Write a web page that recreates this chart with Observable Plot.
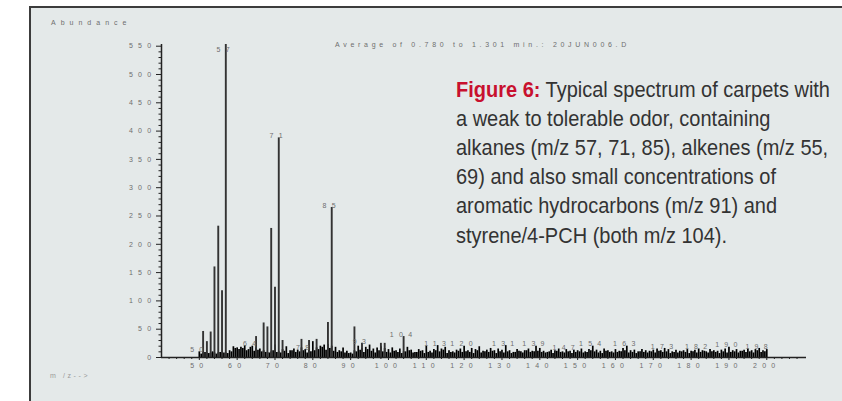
<!DOCTYPE html>
<html>
<head>
<meta charset="utf-8">
<script src="https://cdn.jsdelivr.net/npm/d3@7"></script>
<script src="https://cdn.jsdelivr.net/npm/@observablehq/plot@0.6"></script>
<style>
  html, body { margin: 0; padding: 0; background: #fff; width: 842px; height: 401px; overflow: hidden; }
  #panel { position: absolute; left: 29px; top: 6px; width: 813px; height: 395px; background: #e4e9e9;
           border-left: 2px solid #3c3c3c; border-top: 2px solid #3c3c3c; }
  #chart { position: absolute; left: 0; top: 0; }
  .note { position: absolute; font-family: "Liberation Sans", Arial, sans-serif; font-size: 7px; line-height: 1;
          color: #6e6e6e; white-space: nowrap; }
  #caption { position: absolute; left: 456px; top: 74.5px; font-family: "Liberation Sans Narrow", "Liberation Sans", Arial, sans-serif;
             font-size: 22px; line-height: 29.2px; color: #333; white-space: nowrap; transform-origin: 0 0; }
  #caption b { color: #c8102e; }
</style>
</head>
<body>
<div id="panel"></div>
<div id="chart"></div>
<div class="note" style="left:51px; top:19px; letter-spacing:5px;">Abundance</div>
<div class="note" style="left:335px; top:40.6px; letter-spacing:3.7px;">Average of 0.780 to 1.301 min.: 20JUN006.D</div>
<div class="note" style="left:50px; top:372.4px; letter-spacing:2.6px; color:#9a9a9a;">m /z--&gt;</div>
<div id="caption">
  <span id="line1"><b>Figure 6:</b> Typical spectrum of carpets with</span><br>
  a weak to tolerable odor, containing<br>
  alkanes (m/z 57, 71, 85), alkenes (m/z 55,<br>
  69) and also small concentrations of<br>
  aromatic hydrocarbons (m/z 91) and<br>
  styrene/4-PCH (both m/z 104).
</div>
<script>
// Spectrum baseline: abundance at whole m/z 50..200
const mzStart = 50;
const noiseWhole = [
  10, 8, 8, 8, 8, 8, 8, 8, 12, 19,
  17, 18, 21, 14, 20, 17, 15, 12, 9, 10,
  22, 10, 14, 19, 12, 15, 13, 17, 14, 15,
  28, 17, 20, 22, 23, 20, 18, 12, 17, 11,
  8, 12, 20, 16, 18, 22, 15, 17, 19, 16,
  14, 17, 12, 15, 10, 18, 13, 9, 14, 12,
  20, 11, 14, 21, 15, 18, 12, 10, 13, 15,
  20, 12, 16, 14, 19, 11, 13, 16, 12, 15,
  13, 21, 12, 9, 14, 10, 12, 15, 11, 20,
  16, 11, 9, 13, 12, 15, 10, 14, 11, 13,
  12, 15, 10, 14, 20, 13, 11, 15, 12, 10,
  14, 11, 16, 20, 12, 13, 10, 14, 12, 11,
  13, 15, 12, 16, 14, 10, 13, 11, 12, 14,
  11, 13, 15, 12, 10, 14, 12, 11, 13, 15,
  18, 12, 14, 11, 13, 15, 12, 14, 16, 12,
  14
];
// ... and at the half-mass positions 50.5..199.5
const noiseHalf = [
  6, 9, 7, 10, 6, 9, 8, 7, 10, 16,
  14, 16, 12, 18, 11, 13, 10, 9, 8, 12,
  9, 8, 11, 7, 12, 9, 10, 12, 8, 10,
  12, 14, 18, 13, 16, 11, 9, 10, 8, 7,
  6, 10, 13, 9, 14, 11, 8, 12, 10, 9,
  8, 11, 9, 7, 10, 12, 8, 9, 11, 7,
  9, 8, 12, 10, 13, 7, 9, 8, 11, 9,
  10, 9, 7, 12, 8, 10, 9, 11, 7, 10,
  8, 10, 7, 9, 11, 8, 12, 9, 10, 11,
  9, 8, 10, 7, 11, 9, 8, 10, 7, 9,
  10, 8, 9, 12, 10, 8, 7, 11, 9, 8,
  9, 10, 12, 8, 9, 7, 10, 9, 8, 10,
  8, 11, 9, 10, 7, 9, 8, 10, 9, 7,
  10, 8, 9, 11, 8, 10, 9, 7, 10, 8,
  9, 10, 8, 11, 9, 10, 8, 12, 9, 10
];

// Prominent ions
const peakMz        = [51, 52, 53, 54, 55, 56, 57, 65, 67, 68, 69, 70, 71, 72, 77, 79, 81, 84, 85, 91, 93, 98, 99, 104];
const peakAbundance = [46, 28, 45, 160, 232, 118, 553, 37, 61, 54, 228, 124, 388, 30, 32, 30, 32, 62, 265, 54, 25, 25, 25, 37];

// Annotated masses and the abundance at which each label sits
const labelMz        = [50, 57, 64, 71, 78, 85, 93, 104, 113, 120, 131, 139, 147, 154, 163, 173, 182, 190, 198];
const labelAbundance = [10, 540, 20, 388, 14, 265, 24, 37, 21, 20, 21, 20, 14, 20, 20, 15, 15, 18, 15];

const xTicks = [50, 60, 70, 80, 90, 100, 110, 120, 130, 140, 150, 160, 170, 180, 190, 200];
const xMinorTicks = [42, 44, 46, 48, 52, 54, 56, 58, 62, 64, 66, 68, 72, 74, 76, 78, 82, 84, 86, 88,
  92, 94, 96, 98, 102, 104, 106, 108, 112, 114, 116, 118, 122, 124, 126, 128, 132, 134, 136, 138,
  142, 144, 146, 148, 152, 154, 156, 158, 162, 164, 166, 168, 172, 174, 176, 178, 182, 184, 186, 188,
  192, 194, 196, 198, 202, 204, 206, 208];
const yTicks = [0, 50, 100, 150, 200, 250, 300, 350, 400, 450, 500, 550];
const yMinorTicks = [10, 20, 30, 40, 60, 70, 80, 90, 110, 120, 130, 140, 160, 170, 180, 190, 210, 220, 230, 240,
  260, 270, 280, 290, 310, 320, 330, 340, 360, 370, 380, 390, 410, 420, 430, 440, 460, 470, 480, 490,
  510, 520, 530, 540];

const noise = noiseWhole.map((v, i) => ({mz: mzStart + i, abundance: v}))
  .concat(noiseHalf.map((v, i) => ({mz: mzStart + i + 0.5, abundance: v})));
const peaks = peakMz.map((mz, i) => ({mz, abundance: peakAbundance[i]}));
const labels = labelMz.map((mz, i) => ({mz, abundance: labelAbundance[i]}));

const tickText = {fontSize: 7, fill: "#6e6e6e"};

const chart = Plot.plot({
  width: 842,
  height: 401,
  marginLeft: 161,
  marginRight: 36,
  marginTop: 44,
  marginBottom: 44,
  style: {background: "transparent", fontFamily: "Liberation Sans, Arial, sans-serif", letterSpacing: "5.3px", overflow: "visible"},
  x: {domain: [40, 210.5], label: null},
  y: {domain: [0, 553], label: null},
  marks: [
    Plot.ruleX(noise, {x: "mz", y1: 0, y2: "abundance", stroke: "#000", strokeWidth: 1.7}),
    Plot.ruleX(peaks, {x: "mz", y1: 0, y2: "abundance", stroke: "#333", strokeWidth: 1.9}),
    Plot.text(labels, {x: "mz", y: "abundance", text: d => String(d.mz), lineAnchor: "bottom", ...tickText}),
    Plot.axisY({ticks: yMinorTicks, tickSize: 2.5, tickFormat: () => "", label: null, stroke: "#222"}),
    Plot.axisY({ticks: yTicks, tickSize: 5, tickPadding: 0, label: null, stroke: "#222", ...tickText}),
    Plot.axisX({ticks: xMinorTicks, tickSize: 2, tickFormat: () => "", label: null, stroke: "#222"}),
    Plot.axisX({ticks: xTicks, tickSize: 3, tickPadding: 3, label: null, stroke: "#222", ...tickText}),
    Plot.ruleY([0], {stroke: "#222", strokeWidth: 1.5}),
    Plot.ruleX([40], {y1: 0, y2: 553, stroke: "#222", strokeWidth: 1.5})
  ]
});
document.getElementById("chart").appendChild(chart);

// Condense the caption so its first line spans the text column
const cap = document.getElementById("caption");
const w = document.getElementById("line1").getBoundingClientRect().width;
cap.style.transform = `scaleX(${374 / w})`;
</script>
</body>
</html>
